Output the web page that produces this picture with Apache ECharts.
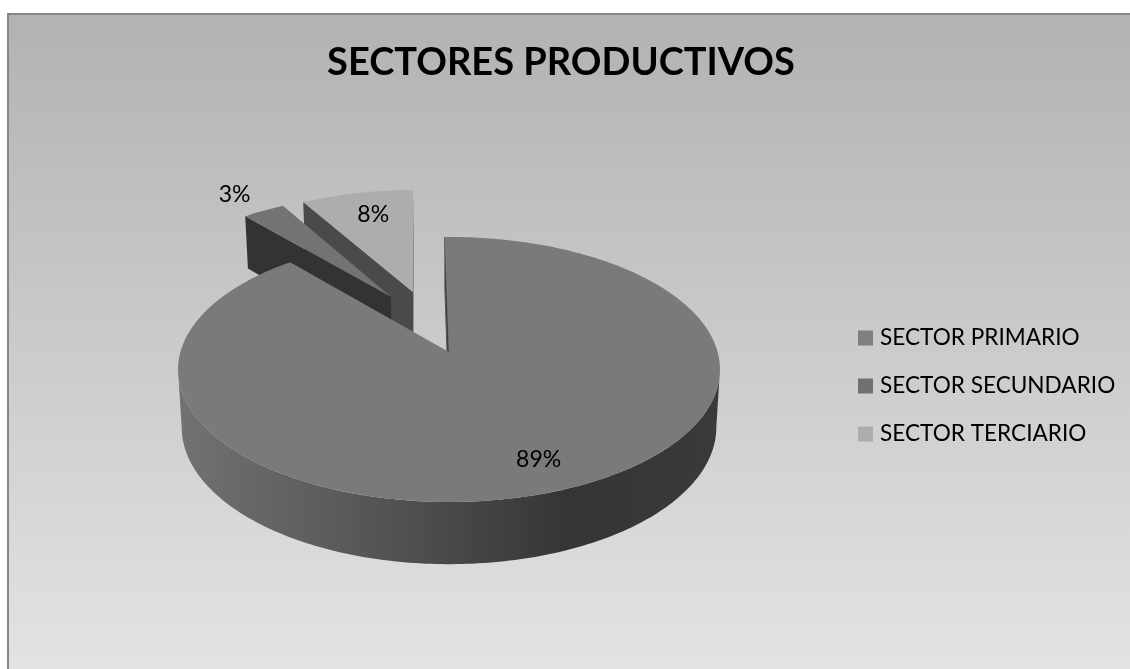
<!DOCTYPE html>
<html>
<head>
<meta charset="utf-8">
<style>html,body{margin:0;padding:0;background:#fff}#c{width:1130px;height:669px}</style>
<script src="https://cdn.jsdelivr.net/npm/echarts@6/dist/echarts.min.js"></script>
</head>
<body>
<div id="c"></div>
<script>
const categories = ['SECTOR PRIMARIO', 'SECTOR SECUNDARIO', 'SECTOR TERCIARIO'];
const percentages = [89, 3, 8];
const titleText = 'SECTORES PRODUCTIVOS';

// view of the tilted pie
const view = {cx: 449, k: 0.132, top: {y: 352, a: 268.6, b: 130.2}, low: {y: 409, a: 265, b: 134.7}};
const startAngle = -1;
const explode = [[0, 0], [-0.229, 0.45], [-0.143, 0.49]];
const labelRadius = [0.80, 1.23, 0.76];
const labelNudge = [[5, 0], [-3, 2], [4, 0]];
const faceColors = ['#7a7a7a', '#737373', '#adadad'];
const legendColors = ['#7f7f7f', '#717171', '#adadad'];
const wallColors = ['#333333', '#333333', '#4a4a4a'];
const fontName = 'Lato, Carlito, Calibri, sans-serif';

const total = percentages.reduce((s, v) => s + v, 0);
const starts = [];
percentages.reduce((acc, v, i) => { starts[i] = acc; return acc + v / total * 360; }, startAngle);

function project(plane, u, v) {
  const d = 1 + view.k * v;
  return [view.cx + plane.a * u / d, plane.y - plane.b * v / d];
}
function rim(i, deg, r) {
  const t = deg * Math.PI / 180;
  return [explode[i][0] + r * Math.sin(t), explode[i][1] + r * Math.cos(t)];
}
function arc(plane, i, from, to) {
  const pts = [];
  const n = Math.max(2, Math.ceil(Math.abs(to - from)));
  for (let j = 0; j <= n; j++) {
    const p = rim(i, from + (to - from) * j / n, 1);
    pts.push(project(plane, p[0], p[1]));
  }
  return pts;
}
function poly(points, style) {
  return {type: 'polygon', shape: {points}, style};
}
function renderSlice(i) {
  return function (params, api) {
    const value = api.value(0);
    const a0 = starts[i];
    const a1 = a0 + value / total * 360;
    const apexT = project(view.top, explode[i][0], explode[i][1]);
    const apexL = project(view.low, explode[i][0], explode[i][1]);
    const children = [];
    const edge = (plane, deg) => { const p = rim(i, deg, 1); return project(plane, p[0], p[1]); };
    if (i === 0) {
      const tangent = Math.acos(-view.k) * 180 / Math.PI;
      const wall = arc(view.top, i, tangent, 360 - tangent).concat(arc(view.low, i, 360 - tangent, tangent));
      children.push(poly(wall, {fill: {type: 'linear', x: 0, y: 0, x2: 1, y2: 0, colorStops: [
        {offset: 0, color: '#727272'}, {offset: 0.3, color: '#5a5a5a'}, {offset: 0.5, color: '#494949'},
        {offset: 0.72, color: '#353535'}, {offset: 1, color: '#3a3a3a'}]}}));
      const sliver = [apexT, apexL, edge(view.low, a0), edge(view.top, a0)];
      children.push(poly(sliver, {fill: '#3c3c3c', stroke: '#555555', lineWidth: 1}));
    } else {
      const wall = [apexT, edge(view.top, a0), edge(view.low, a0), apexL];
      children.push(poly(wall, {fill: wallColors[i]}));
      if (i === 2) children.push(poly([apexT, edge(view.top, a1), edge(view.low, a1), apexL], {fill: wallColors[i]}));
    }
    children.push(poly([apexT].concat(arc(view.top, i, a0, a1)), {fill: faceColors[i]}));
    const lp = rim(i, (a0 + a1) / 2, labelRadius[i]);
    const xy = project(view.top, lp[0], lp[1]);
    children.push({type: 'text', z2: 10, style: {
      x: xy[0] + labelNudge[i][0], y: xy[1] + labelNudge[i][1], text: Math.round(value / total * 100) + '%',
      fill: '#000', font: '23px ' + fontName, align: 'center', verticalAlign: 'middle'}});
    return {type: 'group', children};
  };
}

const series = categories.map((name, i) => ({
  type: 'custom',
  name,
  coordinateSystem: 'none',
  z: 9 - 2 * i,
  data: [[percentages[i]]],
  itemStyle: {color: legendColors[i]},
  renderItem: renderSlice(i),
  animation: false,
  silent: true
}));

const chart = echarts.init(document.getElementById('c'), null, {renderer: 'canvas'});
chart.setOption({
  animation: false,
  backgroundColor: '#ffffff',
  graphic: [{
    type: 'rect', z: -10, silent: true,
    shape: {x: 8, y: 14, width: 1130, height: 670},
    style: {
      fill: {type: 'linear', x: 0, y: 0, x2: 0, y2: 1, colorStops: [
        {offset: 0, color: '#b2b2b2'}, {offset: 1, color: '#e4e4e4'}]},
      stroke: '#868686', lineWidth: 2
    }
  }],
  title: {
    text: titleText, left: 556, top: 39, textAlign: 'center',
    textStyle: {fontFamily: fontName, fontWeight: 'bold', fontSize: 38, color: '#000'}
  },
  legend: {
    orient: 'vertical', left: 853, top: 319, itemWidth: 15, itemHeight: 15, itemGap: 20,
    icon: 'rect', selectedMode: false, data: categories,
    textStyle: {fontFamily: fontName, fontSize: 22.6, color: '#000', padding: [0, 0, 0, 2], height: 28, lineHeight: 28}
  },
  series
});
</script>
</body>
</html>
